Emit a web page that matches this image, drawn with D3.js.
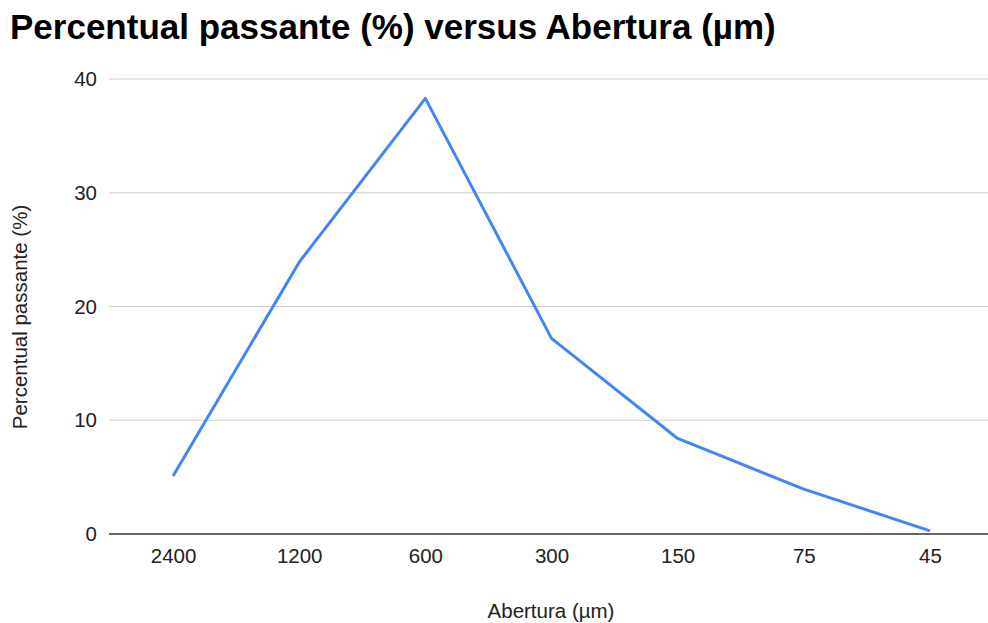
<!DOCTYPE html>
<html>
<head>
<meta charset="utf-8">
<script src="https://cdn.jsdelivr.net/npm/d3@7"></script>
<style>
  body { margin: 0; background: #fff; }
  text { font-family: "Liberation Sans", Arial, sans-serif; fill: #222; }
</style>
</head>
<body>
<script>
// data
var aberturas = ["2400", "1200", "600", "300", "150", "75", "45"];
var passante = [5.1, 23.9, 38.3, 17.2, 8.4, 3.95, 0.28];
var yTicks = [0, 10, 20, 30, 40];

var width = 988, height = 623;

var svg = d3.select("body")
	.append("svg")
	.attr("width", width)
	.attr("height", height);

var x = d3.scalePoint()
	.domain(aberturas)
	.range([110, 993])
	.padding(0.5);

var y = d3.scaleLinear()
	.domain([0, 40])
	.range([534, 79]);

/* title */
svg.append("text")
	.attr("x", 10)
	.attr("y", 39)
	.style("font-size", "35px")
	.style("font-weight", "bold")
	.style("fill", "#000")
	.text("Percentual passante (%) versus Abertura (µm)");

/* gridlines */
svg.append("g")
	.selectAll("line")
	.data(yTicks.filter(function(d) { return d > 0; }))
	.enter().append("line")
		.attr("x1", 109)
		.attr("x2", width)
		.attr("y1", function(d) { return y(d); })
		.attr("y2", function(d) { return y(d); })
		.attr("stroke", "#cccccc")
		.attr("stroke-width", 1);

/* y axis labels */
var yAxis = svg.append("g")
	.attr("transform", "translate(97,0)")
	.call(d3.axisLeft(y).tickValues(yTicks).tickSize(0).tickPadding(0));
yAxis.select(".domain").remove();
yAxis.selectAll("text")
	.style("font-size", "20.5px")
	.style("fill", "#222");

/* x axis */
var xAxis = svg.append("g")
	.attr("transform", "translate(0,534)")
	.call(d3.axisBottom(x).tickSize(0).tickPadding(14));
xAxis.select(".domain").remove();
xAxis.selectAll("text")
	.style("font-size", "20.5px")
	.style("fill", "#222");

svg.append("line")
	.attr("x1", 109)
	.attr("x2", width)
	.attr("y1", y(0))
	.attr("y2", y(0))
	.attr("stroke", "#333")
	.attr("stroke-width", 1.5);

/* axis titles */
svg.append("text")
	.attr("x", 551)
	.attr("y", 618)
	.attr("text-anchor", "middle")
	.style("font-size", "20.5px")
	.text("Abertura (µm)");

svg.append("text")
	.attr("transform", "translate(27,317) rotate(-90)")
	.attr("text-anchor", "middle")
	.style("font-size", "20.5px")
	.text("Percentual passante (%)");

/* the line */
var line = d3.line()
	.x(function(d, i) { return x(aberturas[i]); })
	.y(function(d) { return y(d); });

svg.append("path")
	.datum(passante)
	.attr("d", line)
	.attr("fill", "none")
	.attr("stroke", "#4285f4")
	.attr("stroke-width", 3)
	.attr("stroke-linejoin", "round");
</script>
</body>
</html>
